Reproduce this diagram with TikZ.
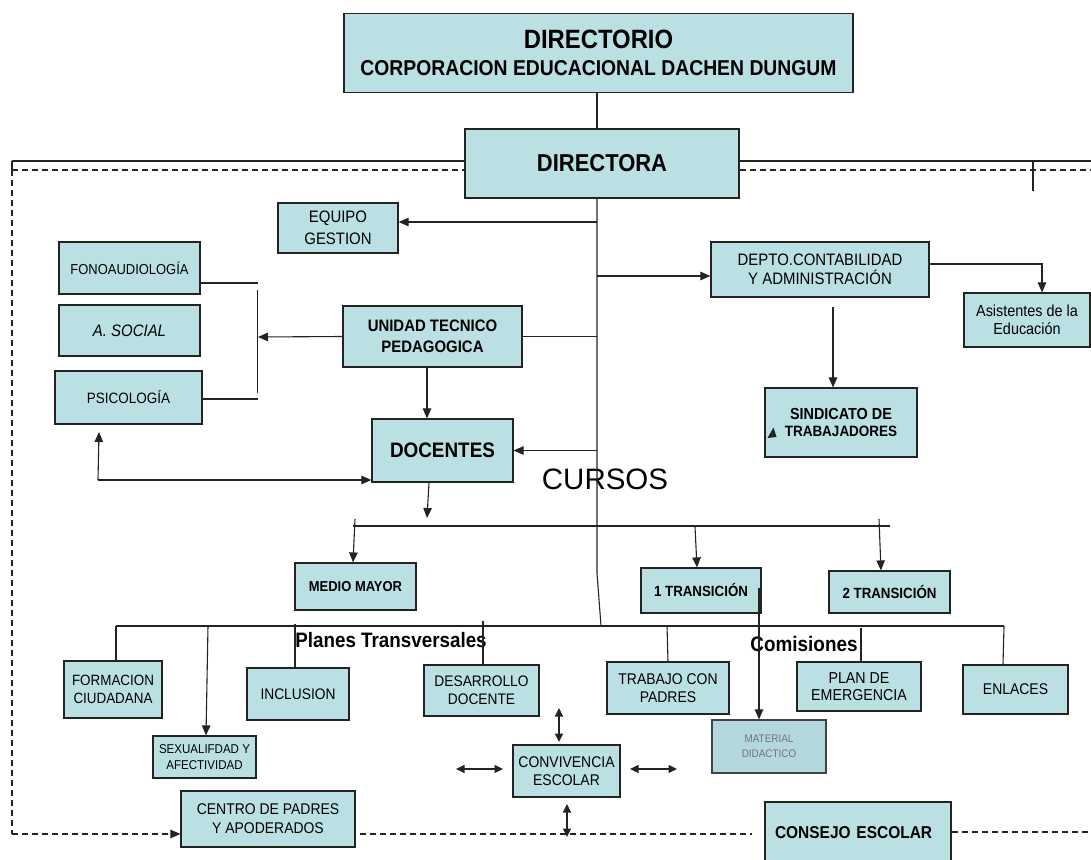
\documentclass[tikz,border=0pt]{standalone}
\usepackage{fontspec}
\setmainfont{Liberation Sans}[FakeStretch=0.9]
\newfontfamily\plainfont{Liberation Sans}
\usetikzlibrary{arrows.meta}
\definecolor{boxfill}{RGB}{187,224,227}
\definecolor{matfill}{RGB}{178,216,222}
\definecolor{linec}{RGB}{35,35,35}
\tikzset{
  box/.style={draw=linec, line width=1.2pt, fill=boxfill, inner sep=0pt, align=center, font=\fontsize{15.5}{18}\selectfont},
  conn/.style={draw=linec, line width=1.1pt},
  arr/.style={conn, -{Triangle[length=10pt,width=8.5pt]}},
  darr/.style={conn, {Triangle[length=8.5pt,width=8pt]}-{Triangle[length=8.5pt,width=8pt]}},
  dashline/.style={conn, dash pattern=on 6pt off 4pt},
  lbl/.style={inner sep=0pt}
}
\begin{document}
\begin{tikzpicture}[x=1pt,y=-1pt]
\useasboundingbox (0,0) rectangle (1091,859);
\clip (0,0) rectangle (1091,859);

% ---- boxes ----
\node[box, minimum width=509pt, minimum height=79pt] (dirio) at (598.5,53)
  {\fontsize{26.5}{30}\selectfont\bfseries DIRECTORIO\\[9pt]\fontsize{21.5}{24}\selectfont\bfseries CORPORACION EDUCACIONAL DACHEN DUNGUM};
\node[box, minimum width=274pt, minimum height=69pt, font=\fontsize{24.4}{28}\selectfont\bfseries] (dira) at (602,163.5) {DIRECTORA};
\node[box, minimum width=120pt, minimum height=50pt, font=\fontsize{16.6}{21.5}\selectfont] (equipo) at (338,228) {EQUIPO\\GESTION};
\node[box, minimum width=141pt, minimum height=52pt, font=\fontsize{14.4}{17}\selectfont] (fono) at (129.5,268) {FONOAUDIOLOGÍA};
\node[box, minimum width=141pt, minimum height=51pt, font=\fontsize{16.6}{19}\selectfont\itshape] (social) at (129.5,330.5) {A. SOCIAL};
\node[box, minimum width=147pt, minimum height=53pt, font=\fontsize{15}{17}\selectfont] (psico) at (128.5,397.5) {PSICOLOGÍA};
\node[box, minimum width=179pt, minimum height=61pt, font=\fontsize{16.6}{21}\selectfont\bfseries] (unidad) at (432.5,336.5) {UNIDAD TECNICO\\PEDAGOGICA};
\node[box, minimum width=141pt, minimum height=63pt, font=\fontsize{21}{24}\selectfont\bfseries] (docentes) at (442.5,450.5) {DOCENTES};
\node[box, minimum width=218pt, minimum height=55pt, font=\fontsize{16.6}{19.5}\selectfont] (depto) at (820,269.5) {DEPTO.CONTABILIDAD\\Y ADMINISTRACIÓN};
\node[box, minimum width=126pt, minimum height=54pt, font=\fontsize{16}{18.5}\selectfont] (asist) at (1027,320) {Asistentes de la\\Educación};
\node[box, minimum width=152pt, minimum height=69pt, font=\fontsize{16}{17.5}\selectfont\bfseries] (sind) at (841,422.5) {SINDICATO DE\\\fontsize{15}{17.5}\selectfont TRABAJADORES};
\node[box, minimum width=121pt, minimum height=47pt, font=\fontsize{14.4}{16}\selectfont\bfseries] (medio) at (355.5,586.5) {MEDIO MAYOR};
\node[box, minimum width=120pt, minimum height=45pt, font=\fontsize{14.8}{16}\selectfont\bfseries] (trans1) at (701,590.5) {1 TRANSICIÓN};
\node[box, minimum width=121pt, minimum height=42pt, font=\fontsize{14.8}{16}\selectfont\bfseries] (trans2) at (889.5,592) {2 TRANSICIÓN};
\node[box, minimum width=98pt, minimum height=57pt, font=\fontsize{14.9}{18}\selectfont] (formacion) at (113,689.5) {FORMACION\\CIUDADANA};
\node[box, minimum width=103pt, minimum height=42pt, font=\fontsize{12.8}{16.5}\selectfont] (sexual) at (204.5,757) {SEXUALIFDAD Y\\AFECTIVIDAD};
\node[box, minimum width=102pt, minimum height=52pt, font=\fontsize{15.3}{17}\selectfont] (inclusion) at (298,694) {INCLUSION};
\node[box, minimum width=115pt, minimum height=51pt, font=\fontsize{15.3}{18}\selectfont] (desarrollo) at (481.5,690.5) {DESARROLLO\\DOCENTE};
\node[box, minimum width=107pt, minimum height=52pt, font=\fontsize{15.5}{17.5}\selectfont] (conviv) at (566.5,771) {CONVIVENCIA\\ESCOLAR};
\node[box, minimum width=122pt, minimum height=52pt, font=\fontsize{15.5}{17.5}\selectfont] (trabajo) at (668,688) {TRABAJO CON\\PADRES};
\node[box, draw=linec!85, fill=matfill, minimum width=114pt, minimum height=53pt, font=\fontsize{11}{15}\selectfont, text=black!55] (material) at (769,746.5) {MATERIAL\\DIDACTICO};
\node[box, minimum width=124pt, minimum height=49pt, font=\fontsize{15.8}{17.5}\selectfont] (plan) at (859,686.5) {PLAN DE\\EMERGENCIA};
\node[box, minimum width=105pt, minimum height=49pt, font=\fontsize{15.5}{17}\selectfont] (enlaces) at (1015.5,689.5) {ENLACES};
\node[box, minimum width=174pt, minimum height=56pt, font=\fontsize{15.5}{19}\selectfont] (centro) at (268,819) {CENTRO DE PADRES\\Y APODERADOS};
\node[box, minimum width=186pt, minimum height=62pt, text width=166pt, align=left, inner xsep=10pt, font=\fontsize{17.2}{19}\selectfont\bfseries] (consejo) at (858,833) {CONSEJO ESCOLAR};

% ---- free texts ----
\node[lbl, font=\plainfont\fontsize{29.5}{32}\selectfont] (cursos) at (605,479) {CURSOS};
\node[lbl, font=\fontsize{20.9}{23}\selectfont\bfseries] (planes) at (391,640) {Planes Transversales};
\node[lbl, font=\fontsize{21}{23}\selectfont\bfseries] (comis) at (804,644) {Comisiones};

% ---- coordinates ----
\coordinate (spTop) at (597,198);
\coordinate (spBend) at (597,573);
\coordinate (spEnd) at (601,626);
\coordinate (lt) at (12,161);
\coordinate (ld) at (12,170);
\coordinate (rt) at (1091,161);
\coordinate (rd) at (1091,170);
\coordinate (tickA) at (1033,161);
\coordinate (tickB) at (1033,191);
\coordinate (lb) at (12,834);
\coordinate (sEq) at (597,222);
\coordinate (sDep) at (597,276);
\coordinate (sUni) at (597,336.5);
\coordinate (sDoc) at (597,450.5);
\coordinate (brk) at (258,337);
\coordinate (bf) at (258,283);
\coordinate (bp) at (258,399);
\coordinate (bv1) at (257.5,290);
\coordinate (bv2) at (257.5,393);
\coordinate (pl) at (98,480);
\coordinate (psA) at (99,432);
\coordinate (dTip) at (427,518);
\coordinate (cl1) at (353,526);
\coordinate (cl2) at (890,526);
\coordinate (mTop) at (355,519);
\coordinate (t1Top) at (695,527);
\coordinate (t2Top) at (879,519);
\coordinate (pl1) at (116,626);
\coordinate (pl2) at (1004,626);
\coordinate (sxTop) at (208,626);
\coordinate (inTop) at (295,624);
\coordinate (deTop) at (483,621);
\coordinate (trTop) at (667,626);
\coordinate (plTop) at (861,628);
\coordinate (enTop) at (1004,626);
\coordinate (maTop) at (759,588);
\coordinate (cvU1) at (559,708);
\coordinate (cvU2) at (559,742);
\coordinate (cvL1) at (456,769);
\coordinate (cvL2) at (503,769);
\coordinate (cvR1) at (630,769);
\coordinate (cvR2) at (677,769);
\coordinate (cvD1) at (567,804);
\coordinate (cvD2) at (567,837);
\coordinate (dsh1) at (360,834);
\coordinate (dsh2) at (752,834);
\coordinate (dsh3) at (1091,832);

% ---- connectors ----
\draw[conn] (dirio.south -| spTop) -- (dira.north -| spTop);
\draw[conn] (spTop) -- (spBend) -- (spEnd);
\draw[conn] (lt) -- (lt -| dira.west);
\draw[conn] (lt) -- (ld);
\draw[conn] (lt -| dira.east) -- (rt);
\draw[dashline] (ld) -- (ld -| dira.west);
\draw[dashline] (ld -| dira.east) -- (rd);
\draw[conn] (tickA) -- (tickB);
\draw[dashline] (ld) -- (lb);
\draw[dashline, -{Triangle[length=10pt,width=8.5pt]}] (lb) -- (lb -| centro.west);
\draw[dashline] (dsh1) -- (dsh2);
\draw[dashline] (dsh3 -| consejo.east) -- (dsh3);

\draw[arr] (sEq) -- (sEq -| equipo.east);
\draw[arr] (sDep) -- (sDep -| depto.west);
\draw[arr] ([yshift=5.5pt]depto.east) -| ([xshift=15pt]asist.north);
\draw[arr] ([xshift=13pt,yshift=-9pt]depto.south) -- ([xshift=13pt]depto.south |- sind.north);
\fill[linec] (767.5,438) -- (773.5,427.5) -- (776.5,437) -- cycle;

\draw[conn] (unidad.east) -- (sUni);
\draw[arr] (unidad.west) -- (brk);
\draw[conn] ([yshift=-15pt]fono.east) -- (bf);
\draw[conn] ([yshift=-1.5pt]psico.east) -- (bp);
\draw[conn] (bv1) -- (bv2);
\draw[arr] ([xshift=-5.5pt]unidad.south) -- ([xshift=-5.5pt]unidad.south |- docentes.north);
\draw[arr] (sDoc) -- (docentes.east);
\draw[arr] (pl) -- (psA);
\draw[arr] (pl) -- (pl -| docentes.west);
\draw[arr] ([xshift=-13.5pt]docentes.south) -- (dTip);

\draw[conn] (cl1) -- (cl2);
\draw[arr] (mTop) -- ([xshift=-2.5pt]medio.north);
\draw[arr] (t1Top) -- ([xshift=-4pt]trans1.north);
\draw[arr] (t2Top) -- ([xshift=-8.5pt]trans2.north);

\draw[conn] (pl1) -- (pl2);
\draw[conn] (pl1) -- (pl1 |- formacion.north);
\draw[arr] (sxTop) -- ([xshift=1.5pt]sexual.north);
\draw[conn] (inTop) -- (inTop |- inclusion.north);
\draw[conn] (deTop) -- (deTop |- desarrollo.north);
\draw[conn] (trTop) -- (trabajo.north);
\draw[conn] (plTop) -- (plTop |- plan.north);
\draw[conn] (enTop) -- ([xshift=-12.5pt]enlaces.north);
\draw[arr] (maTop) -- (maTop |- material.north);

\draw[darr] (cvU1) -- (cvU2);
\draw[darr] (cvL1) -- (cvL2);
\draw[darr] (cvR1) -- (cvR2);
\draw[darr] (cvD1) -- (cvD2);
\end{tikzpicture}
\end{document}
